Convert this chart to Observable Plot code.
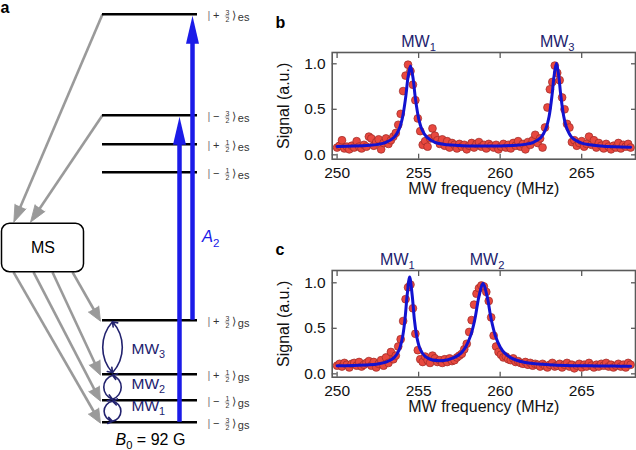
<!DOCTYPE html>
<html><head><meta charset="utf-8">
<script src="https://cdn.jsdelivr.net/npm/d3@7"></script>
<script src="https://cdn.jsdelivr.net/npm/@observablehq/plot@0.6"></script>
<style>
body{margin:0;background:#fff;}
#fig{position:relative;width:636px;height:450px;overflow:hidden;background:#fff;}
.panel{position:absolute;}
</style></head><body><div id="fig"></div>
<script>
// ---------------- DATA ----------------
// Frequency sweep (MHz), shared by panels b and c
const freqGrid = [
250.00,250.15,250.30,250.45,250.60,250.75,250.90,251.05,251.20,251.35,
251.50,251.65,251.80,251.95,252.10,252.25,252.40,252.55,252.70,252.85,
253.00,253.15,253.30,253.45,253.60,253.75,253.90,254.05,254.20,254.35,
254.50,254.65,254.80,254.95,255.10,255.25,255.40,255.55,255.70,255.85,
256.00,256.15,256.30,256.45,256.60,256.75,256.90,257.05,257.20,257.35,
257.50,257.65,257.80,257.95,258.10,258.25,258.40,258.55,258.70,258.85,
259.00,259.15,259.30,259.45,259.60,259.75,259.90,260.05,260.20,260.35,
260.50,260.65,260.80,260.95,261.10,261.25,261.40,261.55,261.70,261.85,
262.00,262.15,262.30,262.45,262.60,262.75,262.90,263.05,263.20,263.35,
263.50,263.65,263.80,263.95,264.10,264.25,264.40,264.55,264.70,264.85,
265.00,265.15,265.30,265.45,265.60,265.75,265.90,266.05,266.20,266.35,
266.50,266.65,266.80,266.95,267.10,267.25,267.40,267.55,267.70,267.85,
268.00];
// Panel b measured signal (a.u.)
const bSignal = [
0.08,0.10,0.16,0.07,0.09,0.06,0.10,0.08,0.15,0.09,
0.07,0.11,0.09,0.20,0.18,0.10,0.14,0.17,0.06,0.13,
0.18,0.12,0.16,0.20,0.24,0.33,0.45,0.70,0.87,0.99,
0.92,0.77,0.60,0.40,0.26,0.11,0.15,0.09,0.18,0.29,
0.21,0.16,0.12,0.17,0.10,0.15,0.08,0.13,0.11,0.07,
0.12,0.09,0.11,0.06,0.10,0.13,0.08,0.12,0.14,0.09,
0.11,0.07,0.12,0.10,0.08,0.11,0.06,0.09,0.12,0.08,
0.11,0.07,0.13,0.10,0.15,0.09,0.12,0.06,0.14,0.11,
0.16,0.22,0.13,0.18,0.08,0.30,0.52,0.72,0.80,0.98,
0.90,0.82,0.63,0.50,0.34,0.30,0.14,0.16,0.10,0.13,
0.15,0.09,0.12,0.20,0.11,0.16,0.08,0.13,0.10,0.07,
0.12,0.09,0.06,0.10,0.08,0.13,0.07,0.11,0.09,0.12,
0.08];
// Panel c measured signal (a.u.)
const cSignal = [
0.09,0.11,0.08,0.12,0.10,0.07,0.11,0.12,0.09,0.13,
0.08,0.10,0.12,0.14,0.09,0.13,0.07,0.11,0.15,0.09,
0.18,0.12,0.24,0.16,0.20,0.30,0.38,0.58,0.82,0.95,
0.98,0.72,0.44,0.26,0.16,0.13,0.19,0.15,0.12,0.20,
0.17,0.13,0.15,0.12,0.16,0.13,0.17,0.14,0.15,0.18,
0.20,0.22,0.27,0.33,0.46,0.59,0.76,0.88,0.94,0.97,
0.96,0.90,0.80,0.62,0.42,0.30,0.24,0.21,0.18,0.19,
0.16,0.15,0.17,0.13,0.14,0.12,0.11,0.13,0.10,0.12,
0.09,0.11,0.10,0.08,0.11,0.09,0.07,0.10,0.12,0.08,
0.09,0.11,0.07,0.10,0.12,0.08,0.10,0.06,0.09,0.11,
0.07,0.10,0.08,0.12,0.09,0.07,0.10,0.08,0.11,0.09,
0.12,0.08,0.10,0.07,0.09,0.11,0.08,0.10,0.07,0.12,
0.10];
// Fitted curves
const bFitX = [250,251,252,252.5,253,253.5,253.8,254,254.2,254.35,254.5,254.65,254.8,255,255.2,255.5,256,256.5,257,258,259,260,261,261.5,262,262.5,262.8,263,263.2,263.3,263.45,263.6,263.7,263.9,264.1,264.4,265,265.5,266,267,268];
const bFitY = [0.092,0.096,0.105,0.115,0.137,0.193,0.280,0.401,0.623,0.851,0.976,0.851,0.623,0.401,0.280,0.194,0.138,0.117,0.107,0.098,0.096,0.098,0.105,0.115,0.135,0.191,0.285,0.421,0.684,0.857,1.007,0.857,0.684,0.421,0.285,0.191,0.128,0.110,0.100,0.088,0.084];
const cFitX = [250,251,252,252.5,253,253.5,253.8,254,254.15,254.3,254.45,254.6,254.75,254.9,255.1,255.4,255.8,256.3,256.8,257.2,257.6,257.9,258.2,258.45,258.7,258.95,259.2,259.45,259.7,260,260.3,260.7,261.2,262,263,264,265,266,267,268];
const cFitY = [0.088,0.092,0.100,0.109,0.128,0.178,0.261,0.390,0.577,0.869,1.064,0.871,0.581,0.396,0.269,0.191,0.154,0.145,0.155,0.180,0.228,0.300,0.425,0.600,0.850,0.995,0.850,0.600,0.422,0.296,0.224,0.172,0.138,0.113,0.100,0.092,0.089,0.087,0.085,0.084];
// Transition labels above spectra
const bPeakLabels = ["MW_1", "MW_3"];
const bPeakLabelX = [255.0, 263.5];
const cPeakLabels = ["MW_1", "MW_2"];
const cPeakLabelX = [253.7, 259.2];
const xTicks = [250, 255, 260, 265];
const yTicks = [0, 0.5, 1.0];

// Panel a: energy levels (diagram energy units, 0 = |−3/2⟩gs)
const levelSign = ["+", "−", "+", "−", "+", "+", "−", "−"];
const levelNum = ["3", "3", "1", "1", "3", "1", "1", "3"];
const levelManifold = ["es", "es", "es", "es", "gs", "gs", "gs", "gs"];
const levelEnergy = [408, 307, 278, 250, 102, 48, 22, 0];
// A2 optical transitions
const laserX = [192, 179];
const laserFrom = [102, 0];
const laserTo = [408, 307];
// decay to metastable state (MS)
const decayStartX = [102, 102], decayStartE = [408, 307];
const decayEndX = [13.3, 30], decayEndE = [200, 200];
// return from MS to ground levels
const repumpStartX = [72, 52, 33, 13], repumpStartE = [150, 150, 150, 150];
const repumpEndX = [100, 100, 100, 100], repumpEndE = [101, 47, 21, -1];
// MW transitions loops
const mwLow = [49.5, 23, 1], mwHigh = [100.5, 47, 21], mwBend = [42, 72, 80];
const mwLabels = ["MW_3", "MW_2", "MW_1"], mwLabelE = [73, 38, 16];

// ---------------- STYLE ----------------
const FONT = '"Liberation Sans", Arial, Helvetica, sans-serif';
const NAVY = "#22226e", BLUE = "#1b1be8", FIT = "#1212d0", GRAY = "#9a9a9a";
const RED = "#e8483f", DARKRED = "#9c2b26", FRAME = "#5a5a5a";

// rich text: *x* italic, _c subscript
function richText(svg) {
  svg.querySelectorAll("text").forEach(t => {
    const targets = t.querySelector("tspan") ? [...t.querySelectorAll("tspan")] : [t];
    for (const el of targets) {
      const s = el.textContent;
      if (!/[_*]/.test(s)) continue;
      const fsEl = el.closest("[font-size]");
      const fs = fsEl ? parseFloat(fsEl.getAttribute("font-size")) : 16;
      el.textContent = "";
      const re = /\*([^*]+)\*|_(\w)|([^*_]+)/g;
      let m, shifted = false;
      while ((m = re.exec(s))) {
        const sp = document.createElementNS("http://www.w3.org/2000/svg", "tspan");
        if (m[2] != null) {
          sp.textContent = m[2];
          sp.setAttribute("font-size", fs * 0.7);
          sp.setAttribute("dy", fs * 0.25);
          shifted = true;
        } else {
          if (m[1] != null) { sp.textContent = m[1]; sp.setAttribute("font-style", "italic"); }
          else sp.textContent = m[3];
          if (shifted) { sp.setAttribute("dy", -fs * 0.25); shifted = false; }
        }
        el.appendChild(sp);
      }
    }
  });
  return svg;
}

function place(svg, left, top) {
  const d = document.createElement("div");
  d.className = "panel";
  d.style.left = left + "px"; d.style.top = top + "px";
  d.appendChild(svg);
  document.getElementById("fig").appendChild(d);
}

// ---------------- PANEL a ----------------
const levels = levelEnergy.map((E, i) => ({E, sign: levelSign[i], num: levelNum[i], man: levelManifold[i]}));
function arrowsFrom(x1s, y1s, x2s, y2s, pull) {
  return x1s.map((x1, i) => {
    const x2 = x2s[i], y1 = y1s[i], y2 = y2s[i];
    const dx = x2 - x1, dy = y2 - y1, L = Math.hypot(dx, dy);
    return {x1, y1, x2, y2, sx: x2 - dx / L * pull, sy: y2 - dy / L * pull, angle: Math.atan2(dx, dy) * 180 / Math.PI};
  });
}
const decay = arrowsFrom(decayStartX, decayStartE, decayEndX, decayEndE, 9);
const repump = arrowsFrom(repumpStartX, repumpStartE, repumpEndX, repumpEndE, 8);
const laser = laserX.map((x, i) => ({x, from: laserFrom[i], to: laserTo[i] - 1.5}));

const loopMarks = mwLow.map((lo, i) => Plot.arrow(
  [{a: lo, b: mwHigh[i]}, {a: mwHigh[i], b: lo}],
  {x1: 112, x2: 112, y1: "a", y2: "b", bend: -mwBend[i], stroke: NAVY, strokeWidth: 1.6, headLength: 5, headAngle: 70}
));

const panelA = Plot.plot({
  width: 270, height: 450, margin: 0,
  x: {domain: [0, 270], range: [0, 270], axis: null},
  y: {domain: [-28.3, 421.7], range: [450, 0], axis: null},
  style: {fontFamily: FONT, background: "transparent"},
  marks: [
    Plot.link(decay, {x1: "x1", y1: "y1", x2: "sx", y2: "sy", stroke: GRAY, strokeWidth: 2.6}),
    Plot.vector(decay, {x: "x2", y: "y2", rotate: "angle", length: 17, r: 6, shape: "spike", anchor: "end", fill: GRAY, stroke: GRAY, strokeWidth: 0.8}),
    Plot.link(repump, {x1: "x1", y1: "y1", x2: "sx", y2: "sy", stroke: GRAY, strokeWidth: 2.6}),
    Plot.vector(repump, {x: "x2", y: "y2", rotate: "angle", length: 14, r: 6, shape: "spike", anchor: "end", fill: GRAY, stroke: GRAY, strokeWidth: 0.8}),
    Plot.rect([0], {x1: 1.5, x2: 83.5, y1: 150, y2: 198.4, rx: 8, fill: "white", stroke: "black", strokeWidth: 1.5}),
    Plot.text(["MS"], {x: 42.5, y: 174, fontSize: 16, fill: "black"}),
    Plot.ruleY(levels, {y: "E", x1: 102, x2: 197, stroke: "black", strokeWidth: 2.4}),
    Plot.ruleX(laser, {x: "x", y1: "from", y2: d => d.to - 12, stroke: BLUE, strokeWidth: 4.5}),
    Plot.vector(laser, {x: "x", y: "to", length: 28, r: 6.5, shape: "spike", anchor: "end", fill: BLUE, stroke: "none"}),
    ...loopMarks,
    // ket labels
    Plot.text(levels, {x: 208.3, y: "E", text: () => "|", dy: 1, fontSize: 11, fill: "#777"}),
    Plot.text(levels, {x: 215.8, y: "E", text: "sign", dy: 1, fontSize: 11, fill: "#333"}),
    Plot.text(levels, {x: 227, y: "E", text: "num", dy: -1.6, fontSize: 7, fill: "#333"}),
    Plot.ruleY(levels, {y: "E", x1: 224.8, x2: 229.2, dy: 1.8, stroke: "#666", strokeWidth: 0.6}),
    Plot.text(levels, {x: 227, y: "E", text: () => "2", dy: 5.3, fontSize: 7, fill: "#333"}),
    Plot.text(levels, {x: 233.3, y: "E", text: () => "\u27E9", dy: 1, fontSize: 11, fill: "#333"}),
    Plot.text(levels, {x: 237.3, y: "E", text: "man", dy: 3.5, fontSize: 11, fill: "#333", textAnchor: "start"}),
    // MW labels
    Plot.text(mwLabels, {x: 131, y: mwLabelE, text: mwLabels, textAnchor: "start", fontSize: 15.5, fill: NAVY}),
    Plot.text(["*A*_2"], {x: 201.5, y: 185, textAnchor: "start", fontSize: 16.5, fill: BLUE}),
    Plot.text(["*B*_0 = 92 G"], {x: 115, y: -18, textAnchor: "start", fontSize: 16, fill: "black"}),
    Plot.text(["a"], {x: 0, y: 414.5, textAnchor: "start", fontSize: 16, fontWeight: "bold", fill: "black"})
  ]
});
place(richText(panelA), 0, 0);

// ---------------- PANELS b, c ----------------
function spectrum({signal, fitX, fitY, labels, labelX, yDomain, height, marginTop, panel, panelDy}) {
  const frameH = 106.7;
  return Plot.plot({
    width: 366, height, marginLeft: 61.7, marginRight: 1, marginTop, marginBottom: height - marginTop - frameH,
    x: {domain: [249.7, 268.3], axis: null},
    y: {domain: yDomain, axis: null},
    style: {fontFamily: FONT, background: "transparent", color: "#111"},
    marks: [
      Plot.dot(freqGrid, {x: freqGrid, y: signal, r: 3.9, fill: RED, stroke: DARKRED, strokeWidth: 0.7}),
      Plot.line(fitX, {x: fitX, y: fitY, stroke: FIT, strokeWidth: 3, curve: "catmull-rom"}),
      Plot.frame({stroke: FRAME, strokeWidth: 1.6}),
      Plot.axisX({anchor: "bottom", ticks: xTicks, tickSize: 5, dy: -5, fill: "none", stroke: FRAME, strokeWidth: 1.3}),
      Plot.axisX({anchor: "top", ticks: xTicks, tickSize: 5, dy: 5, fill: "none", stroke: FRAME, strokeWidth: 1.3}),
      Plot.axisY({anchor: "left", ticks: yTicks, tickSize: 5, dx: 5, fill: "none", stroke: FRAME, strokeWidth: 1.3}),
      Plot.axisY({anchor: "right", ticks: yTicks, tickSize: 5, dx: -5, fill: "none", stroke: FRAME, strokeWidth: 1.3}),
      Plot.axisX({anchor: "bottom", ticks: xTicks, tickSize: 0, tickPadding: 8, fontSize: 15.5, label: null, stroke: "none", fill: "#111"}),
      Plot.axisY({anchor: "left", ticks: yTicks, tickSize: 0, tickPadding: 6.5, tickFormat: ".1f", fontSize: 15.5, label: null, stroke: "none", fill: "#111"}),
      Plot.text(["MW frequency (MHz)"], {frameAnchor: "bottom", dy: 35, fontSize: 16, fill: "#111"}),
      Plot.text(["Signal (a.u.)"], {frameAnchor: "left", dx: -48.7, rotate: -90, textAnchor: "middle", fontSize: 16, fill: "#111"}),
      Plot.text(labels, {x: labelX, text: labels, frameAnchor: "top", dy: -17, fontSize: 16, fill: NAVY}),
      Plot.text([panel], {frameAnchor: "top-left", dx: -56.7, dy: panelDy, textAnchor: "start", fontSize: 16, fontWeight: "bold", fill: "black"})
    ]
  });
}
place(richText(spectrum({signal: bSignal, fitX: bFitX, fitY: bFitY, labels: bPeakLabels, labelX: bPeakLabelX,
  yDomain: [-0.048, 1.124], height: 220, marginTop: 52, panel: "b", panelDy: -36})), 270, 0);
place(richText(spectrum({signal: cSignal, fitX: cFitX, fitY: cFitY, labels: cPeakLabels, labelX: cPeakLabelX,
  yDomain: [-0.037, 1.135], height: 230, marginTop: 50, panel: "c", panelDy: -27})), 270, 220);
</script></body></html>
